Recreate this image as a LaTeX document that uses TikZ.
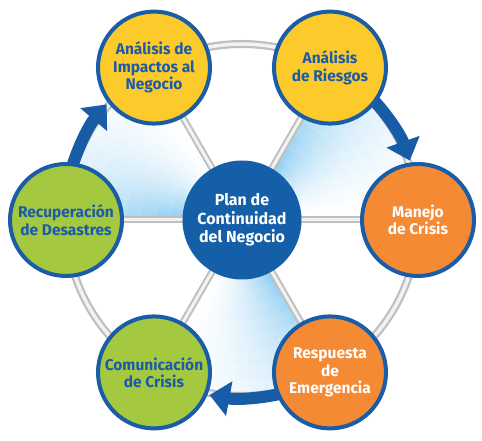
\documentclass[tikz,border=0pt]{standalone}
\usepackage{fontspec}
\setmainfont{Fira Sans}
\usetikzlibrary{arrows.meta,backgrounds}
\definecolor{outlineblue}{RGB}{26,92,166}
\definecolor{centerblue}{RGB}{21,95,169}
\definecolor{arrowblue}{RGB}{24,92,168}
\definecolor{textblue}{RGB}{28,91,168}
\definecolor{yellowc}{RGB}{253,202,44}
\definecolor{orangec}{RGB}{245,138,52}
\definecolor{greenc}{RGB}{165,200,65}
\definecolor{wedgeblue}{RGB}{125,198,240}
\tikzset{
  circ/.style={circle, draw=outlineblue, line width=4pt, minimum size=112pt, inner sep=0pt, align=center, font=\bfseries\fontsize{15.5}{17.5}\selectfont},
  yel/.style={circ, fill=yellowc, text=textblue},
  org/.style={circ, fill=orangec, text=white},
  grn/.style={circ, fill=greenc, text=textblue},
  tubeout/.style={draw=gray!50, line width=8pt},
  tubein/.style={draw=gray!10, line width=3.5pt},
  spokeout/.style={draw=gray!50, line width=7pt},
  spokein/.style={draw=gray!10, line width=3pt},
  cycarrow/.style={draw=arrowblue, line width=12pt, -{Triangle[width=34pt,length=20pt]}}
}
\begin{document}
\begin{tikzpicture}[x=1pt,y=1pt]
\useasboundingbox (-242,-221) rectangle (240,220);
\node[circle, fill=centerblue, minimum size=119pt, inner sep=0pt, align=center, text=white, font=\bfseries\fontsize{16}{18.5}\selectfont] (ctr) at (0,0) {Plan de\\Continuidad\\del Negocio};
\node[yel] (imp) at (120:176) {Análisis de\\Impactos al\\Negocio};
\node[yel] (rie) at (60:176) {Análisis\\de Riesgos};
\node[org] (man) at (0:176) {Manejo\\de Crisis};
\node[org] (res) at (300:176) {Respuesta\\de\\Emergencia};
\node[grn] (com) at (240:176) {Comunicación\\de Crisis};
\node[grn] (rec) at (180:176) {Recuperación\\de Desastres};
\begin{pgfonlayer}{background}
  % light blue wedges
  \foreach \s/\e in {180/120, 60/0, 300/240} {
    \foreach \i in {0,...,23} {
      \pgfmathsetmacro{\a}{\s+(\e-\s)*\i/24}
      \pgfmathsetmacro{\b}{\s+(\e-\s)*(\i+1)/24}
      \pgfmathsetmacro{\t}{(\i+0.5)/24}
      \foreach \j in {0,...,7} {
        \pgfmathsetmacro{\ra}{55+\j*15}
        \pgfmathsetmacro{\rb}{\ra+15}
        \pgfmathsetmacro{\p}{95*(1-\t)^1.7*(1-0.55*(\j+0.5)/8)}
        \fill[wedgeblue!\p!white, draw=wedgeblue!\p!white, line width=0.4pt]
          (\a:\ra) arc[start angle=\a, end angle=\b, radius=\ra]
          -- (\b:\rb) arc[start angle=\b, end angle=\a, radius=\rb] -- cycle;
      }
    }
  }
  % ring
  \draw[tubeout] (ctr.center) circle[radius=176];
  \draw[tubein] (ctr.center) circle[radius=176];
  % spokes
  \foreach \n in {imp,rie,man,res,com,rec} {
    \draw[spokeout] (ctr.center) -- (\n.center);
    \draw[spokein] (ctr.center) -- (\n.center);
  }
  % arrows
  \draw[cycarrow] (165:178) arc[start angle=165, end angle=139.5, radius=178];
  \draw[cycarrow] (45:178) arc[start angle=45, end angle=19.5, radius=178];
  \draw[cycarrow] (285:178) arc[start angle=285, end angle=259.5, radius=178];
\end{pgfonlayer}
\end{tikzpicture}
\end{document}
